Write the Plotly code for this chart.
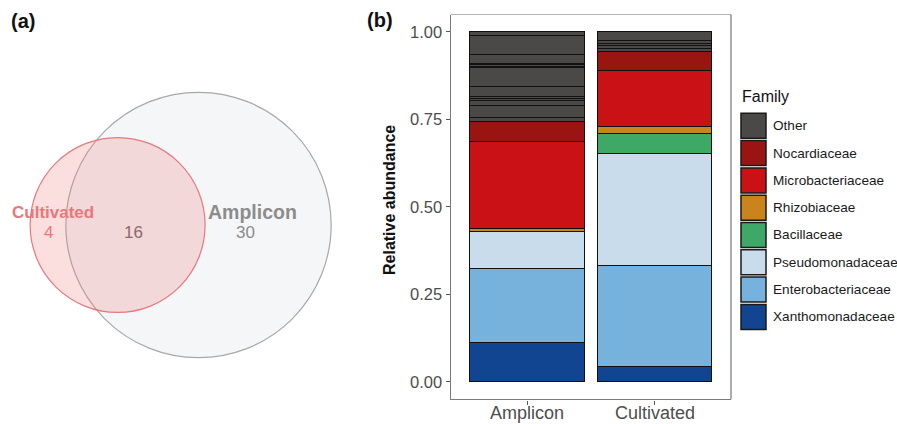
import math
import plotly.graph_objects as go

# ---------------- data ----------------
samples = ["Amplicon", "Cultivated"]
families = ["Xanthomonadaceae", "Enterobacteriaceae", "Pseudomonadaceae", "Bacillaceae",
            "Rhizobiaceae", "Microbacteriaceae", "Nocardiaceae"]
amplicon_vals = [0.111, 0.213, 0.105, 0.0, 0.009, 0.248, 0.057]
cultivated_vals = [0.043, 0.290, 0.321, 0.056, 0.021, 0.158, 0.054]
# "Other" family split into many minor families (bottom to top)
other_amplicon = [0.012, 0.035, 0.014, 0.007, 0.006, 0.027, 0.055, 0.003, 0.004, 0.003, 0.028, 0.053, 0.010]
other_cultivated = [0.009, 0.008, 0.007, 0.009, 0.024]
family_colors = {
    "Other": "#4b4947",
    "Nocardiaceae": "#9a1511",
    "Microbacteriaceae": "#c91116",
    "Rhizobiaceae": "#c9841b",
    "Bacillaceae": "#3ea866",
    "Pseudomonadaceae": "#c9dcec",
    "Enterobacteriaceae": "#76b2dc",
    "Xanthomonadaceae": "#114592",
}
legend_order = ["Other", "Nocardiaceae", "Microbacteriaceae", "Rhizobiaceae", "Bacillaceae",
                "Pseudomonadaceae", "Enterobacteriaceae", "Xanthomonadaceae"]
y_ticks = [0.0, 0.25, 0.5, 0.75, 1.0]

venn_sets = ["Cultivated", "Amplicon"]
venn_only_cultivated = 4
venn_shared = 16
venn_only_amplicon = 30

# ---------------- figure ----------------
W, H = 897, 424
FONT = "Liberation Sans, Arial, sans-serif"
fig = go.Figure()

def px(x):
    return x / W

def py(y):
    return 1 - y / H

# stacked bars
for fam, a, c in zip(families, amplicon_vals, cultivated_vals):
    fig.add_trace(go.Bar(
        x=samples, y=[a if a > 0 else None, c if c > 0 else None], name=fam,
        marker=dict(color=family_colors[fam], line=dict(color="#111111", width=1)),
        width=0.9, showlegend=False, xaxis="x", yaxis="y"))
n_other = max(len(other_amplicon), len(other_cultivated))
for i in range(n_other):
    a = other_amplicon[i] if i < len(other_amplicon) else None
    c = other_cultivated[i] if i < len(other_cultivated) else None
    fig.add_trace(go.Bar(
        x=samples, y=[a, c], name="Other",
        marker=dict(color=family_colors["Other"], line=dict(color="#111111", width=1)),
        width=0.9, showlegend=False, xaxis="x", yaxis="y"))

# x tick labels (annotations, kept inside the page's bottom edge)
for s in samples:
    fig.add_annotation(x=s, y=0, xref="x", yref="paper", showarrow=False,
                       text=s, font=dict(family=FONT, size=18, color="#4d4d4d"),
                       xanchor="center", yanchor="bottom", borderpad=0)

# ---------------- venn (area proportional) ----------------
k = 19.56  # px per sqrt(count)
r_c = k * math.sqrt(venn_only_cultivated + venn_shared)
r_a = k * math.sqrt(venn_only_amplicon + venn_shared)
target = math.pi * k * k * venn_shared

def lens(r1, r2, d):
    a1 = math.acos((d * d + r1 * r1 - r2 * r2) / (2 * d * r1))
    a2 = math.acos((d * d + r2 * r2 - r1 * r1) / (2 * d * r2))
    t = 0.5 * math.sqrt((-d + r1 + r2) * (d + r1 - r2) * (d - r1 + r2) * (d + r1 + r2))
    return r1 * r1 * a1 + r2 * r2 * a2 - t

lo, hi = abs(r_a - r_c) + 1e-6, r_a + r_c - 1e-6
for _ in range(80):
    mid = (lo + hi) / 2
    if lens(r_c, r_a, mid) > target:
        lo = mid
    else:
        hi = mid
d = (lo + hi) / 2
cy = 225.0
ga_cx = 198.5
rc_cx = ga_cx - d

fig.add_shape(type="circle", xref="x2", yref="y2",
              x0=ga_cx - r_a, x1=ga_cx + r_a, y0=cy - r_a, y1=cy + r_a,
              fillcolor="rgba(225,228,233,0.35)", line=dict(color="#a8a8a8", width=1.2), layer="below")
fig.add_shape(type="circle", xref="x2", yref="y2",
              x0=rc_cx - r_c, x1=rc_cx + r_c, y0=cy - r_c, y1=cy + r_c,
              fillcolor="rgba(240,128,128,0.25)", line=dict(color="#e8787c", width=1.2), layer="below")

red_txt = "#e9777b"
gray_txt = "#8c8c8c"
venn_ann = [
    (venn_sets[0], rc_cx - 65, cy - 13, red_txt, 17, True),
    (str(venn_only_cultivated), rc_cx - 69, cy + 7, red_txt, 17, False),
    (str(venn_shared), rc_cx + 16, cy + 7, "#8a6a6e", 17, False),
    (venn_sets[1], ga_cx + 54, cy - 13, gray_txt, 19.5, True),
    (str(venn_only_amplicon), ga_cx + 46.5, cy + 7, gray_txt, 17, False),
]
for t, x, y, col, size, bold in venn_ann:
    fig.add_annotation(x=x, y=y, xref="x2", yref="y2", showarrow=False,
                       text=f"<b>{t}</b>" if bold else t,
                       font=dict(family=FONT, size=size, color=col),
                       xanchor="center", yanchor="middle", borderpad=0)

# ---------------- panel labels ----------------
fig.add_annotation(x=px(22.5), y=py(21), xref="paper", yref="paper", showarrow=False,
                   text="<b>(a)</b>", font=dict(family=FONT, size=20, color="#111"),
                   xanchor="center", yanchor="middle")
fig.add_annotation(x=px(380), y=py(20), xref="paper", yref="paper", showarrow=False,
                   text="<b>(b)</b>", font=dict(family=FONT, size=20, color="#111"),
                   xanchor="center", yanchor="middle")

# y title
fig.add_annotation(x=px(389), y=py(200), xref="paper", yref="paper", showarrow=False,
                   text="<b>Relative abundance</b>", textangle=-90,
                   font=dict(family=FONT, size=16, color="#111"),
                   xanchor="center", yanchor="middle")

# panel frame (top / right)
L, R, T, B = 450.7, 731.0, 14.5, 399.3
fig.add_shape(type="line", xref="paper", yref="paper", x0=px(L), x1=px(R), y0=py(T), y1=py(T),
              line=dict(color="#b5b5b5", width=1.2))
fig.add_shape(type="line", xref="paper", yref="paper", x0=px(R), x1=px(R), y0=py(T), y1=py(B),
              line=dict(color="#8a8a8a", width=1.4))

# ---------------- manual legend ----------------
lx0, ly0, key, step = 741.0, 113.3, 25.0, 27.3
fig.add_annotation(x=px(lx0 - 1), y=py(97), xref="paper", yref="paper", showarrow=False,
                   text="Family", font=dict(family=FONT, size=16, color="#111"),
                   xanchor="left", yanchor="middle")
for i, fam in enumerate(legend_order):
    top = ly0 + i * step
    fig.add_shape(type="rect", xref="paper", yref="paper",
                  x0=px(lx0), x1=px(lx0 + key), y0=py(top), y1=py(top + key),
                  fillcolor=family_colors[fam], line=dict(color="#1a1a1a", width=1.5))
    fig.add_annotation(x=px(lx0 + key + 5), y=py(top + key / 2), xref="paper", yref="paper",
                       showarrow=False, text=fam, font=dict(family=FONT, size=13.6, color="#1a1a1a"),
                       xanchor="left", yanchor="middle")

fig.update_layout(
    width=W, height=H, margin=dict(l=0, r=0, t=0, b=0, autoexpand=False),
    paper_bgcolor="white", plot_bgcolor="white",
    barmode="stack", bargap=0.1, showlegend=False,
    font=dict(family=FONT),
    xaxis=dict(domain=[px(L), px(R)], range=[-0.6, 1.6], type="category", automargin=False,
               showline=True, linecolor="#7a7a7a", linewidth=1.4, showgrid=False, zeroline=False,
               ticks="outside", ticklen=4, tickcolor="#555", tickwidth=1.2,
               showticklabels=False, fixedrange=True),
    yaxis=dict(domain=[py(B), py(T)], range=[-0.05, 1.05], tickvals=y_ticks, tickformat=".2f",
               automargin=False,
               showline=True, linecolor="#7a7a7a", linewidth=1.4, showgrid=False, zeroline=False,
               ticks="outside", ticklen=4, tickcolor="#555", tickwidth=1.2,
               tickfont=dict(family=FONT, size=16.5, color="#4d4d4d"), fixedrange=True),
    xaxis2=dict(domain=[0, px(360)], range=[0, 360], visible=False, fixedrange=True,
                anchor="y2", automargin=False),
    yaxis2=dict(domain=[0, 1], range=[H, 0], visible=False, fixedrange=True,
                anchor="x2", automargin=False),
)

fig.write_html("out.html")
